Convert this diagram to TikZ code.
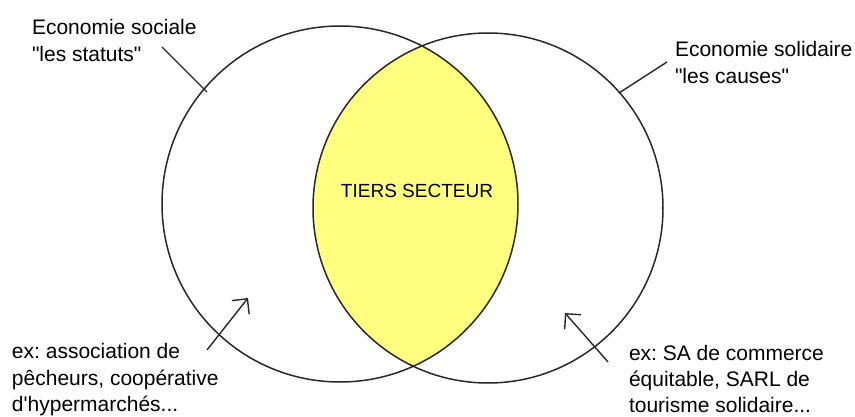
\documentclass[tikz,border=0pt]{standalone}
\usepackage{fontspec}
\setmainfont{Liberation Sans}[Ligatures=TeXOff]
\usetikzlibrary{arrows.meta}
\definecolor{lensyellow}{RGB}{255,255,128}
\definecolor{inkgray}{RGB}{40,40,40}
\frenchspacing
\begin{document}
\begin{tikzpicture}[x=1pt,y=-1pt,
  ring/.style={circle,draw=inkgray,line width=1.5pt,inner sep=0pt,outer sep=0pt},
  label/.style={anchor=base west,inner sep=0pt,outer sep=0pt,font=\fontsize{21}{26.7}\selectfont},
  leader/.style={draw=inkgray,line width=1.4pt},
  pointer/.style={draw=inkgray,line width=1.4pt,-{Straight Barb[length=11pt,width=22pt,line width=1.4pt]}}]
\useasboundingbox[fill=white] (0,0) rectangle (855,417);
% lens
\begin{scope}
  \clip (340,204) circle (178);
  \fill[lensyellow] (488,208) circle (175);
\end{scope}
\node[ring,minimum size=356pt] (L) at (340,204) {};
\node[ring,minimum size=350pt] (R) at (488,208) {};
\node[font=\fontsize{19}{24}\selectfont,anchor=base,inner sep=0pt] (T) at (417,198) {TIERS SECTEUR};
% top labels
\node[label] (ES1) at (32,35) {Economie sociale};
\node[label] (ES2) at (32,61.7) {"les statuts"};
\node[label] (SO1) at (675,56.7) {Economie solidaire};
\node[label] (SO2) at (675,83.3) {"les causes"};
% bottom labels
\node[label] (BL1) at (12,358.5) {ex: association de};
\node[label] (BL2) at (12,385) {pêcheurs, coopérative};
\node[label] (BL3) at (12,411) {d'hypermarchés...};
\node[label] (BR1) at (629,360) {ex: SA de commerce};
\node[label] (BR2) at (629,386.3) {équitable, SARL de};
\node[label] (BR3) at (629,412.3) {tourisme solidaire...};
% connector ends
\coordinate (la) at (162,47);
\coordinate (lb) at (207,92);
\coordinate (ra) at (667,62);
\coordinate (rb) at (619,93);
\coordinate (pa) at (207,350);
\coordinate (pb) at (248,298);
\coordinate (qa) at (608,362);
\coordinate (qb) at (565,313);
\draw[leader] (la) -- (lb);
\draw[leader] (ra) -- (rb);
\draw[pointer] (pa) -- (pb);
\draw[pointer] (qa) -- (qb);
\end{tikzpicture}
\end{document}
